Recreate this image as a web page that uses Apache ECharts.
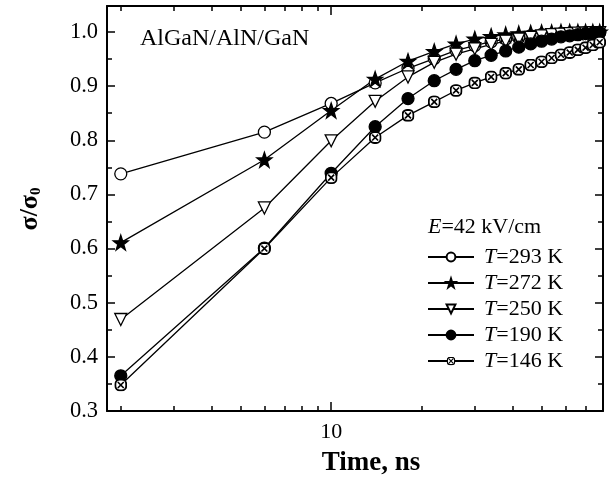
<!DOCTYPE html>
<html>
<head>
<meta charset="utf-8">
<script src="https://cdn.jsdelivr.net/npm/echarts@6/dist/echarts.min.js"></script>
<style>html,body{margin:0;padding:0;background:#fff;}#c{width:609px;height:483px;}</style>
</head>
<body>
<div id="c"></div>
<script>
// ---- data ----
const times = [2, 6, 10, 14, 18, 22, 26, 30, 34, 38, 42, 46, 50, 54, 58, 62, 66, 70, 74, 78];
const seriesNames = ['T=293 K', 'T=272 K', 'T=250 K', 'T=190 K', 'T=146 K'];
const s293 = [0.738, 0.815, 0.868, 0.906, 0.933, 0.951, 0.966, 0.975, 0.982, 0.987, 0.990, 0.993, 0.995, 0.996, 0.997, 0.998, 0.998, 0.999, 0.999, 0.999];
const s272 = [0.611, 0.764, 0.855, 0.913, 0.946, 0.964, 0.978, 0.987, 0.992, 0.995, 0.997, 0.998, 0.999, 0.999, 1.000, 1.000, 1.000, 1.000, 1.000, 1.000];
const s250 = [0.469, 0.675, 0.799, 0.872, 0.917, 0.944, 0.959, 0.969, 0.977, 0.983, 0.987, 0.990, 0.993, 0.995, 0.996, 0.997, 0.998, 0.998, 0.999, 0.999];
const s190 = [0.365, 0.601, 0.739, 0.825, 0.877, 0.910, 0.931, 0.947, 0.957, 0.965, 0.972, 0.978, 0.983, 0.987, 0.991, 0.993, 0.995, 0.997, 0.998, 0.999];
const s146 = [0.348, 0.600, 0.731, 0.805, 0.846, 0.871, 0.892, 0.906, 0.917, 0.924, 0.931, 0.939, 0.945, 0.952, 0.958, 0.962, 0.967, 0.971, 0.976, 0.981];
const xMajorTicks = [10];
const xMinorTicks = [2, 3, 4, 5, 6, 7, 8, 9, 20, 30, 40, 50, 60, 70, 80];
const yMajorTicks = [0.3, 0.4, 0.5, 0.6, 0.7, 0.8, 0.9, 1.0];
const yMinorTicks = [0.35, 0.45, 0.55, 0.65, 0.75, 0.85, 0.95];

const FONT = "'Liberation Serif','Times New Roman',serif";
const pair = (arr) => times.map((t, i) => [t, arr[i]]);

const starPath = 'path://M50,0 L61.8,34.5 L97.6,34.5 L68.8,55.9 L79.4,90.5 L50,69.1 L20.6,90.5 L31.2,55.9 L2.4,34.5 L38.2,34.5 Z';
const boxX = "<svg xmlns='http://www.w3.org/2000/svg' width='24' height='24' viewBox='0 0 24 24'><rect x='2' y='2' width='20' height='20' rx='8' fill='white' stroke='black' stroke-width='3.4'/><path d='M6.5 6.5L17.5 17.5M17.5 6.5L6.5 17.5' stroke='black' stroke-width='3'/></svg>";
const boxXSymbol = 'image://data:image/svg+xml;charset=utf-8,' + encodeURIComponent(boxX);

const xBase = (pos, ticks, len, showLine, showLabel) => ({
  type: 'log', logBase: 10, min: 1.8, max: 80, position: pos,
  axisLine: { show: showLine, lineStyle: { color: '#000', width: 2 } },
  axisTick: { show: true, inside: true, length: len, customValues: ticks, lineStyle: { color: '#000', width: 1.5 } },
  axisLabel: showLabel ? { show: true, customValues: xMajorTicks, formatter: v => String(Math.round(v)), color: '#000', fontFamily: FONT, fontSize: 22, margin: 10 } : { show: false },
  splitLine: { show: false }, minorTick: { show: false }
});
const yBase = (pos, ticks, len, showLine, showLabel) => ({
  type: 'value', min: 0.3, max: 1.048, position: pos,
  axisLine: { show: showLine, lineStyle: { color: '#000', width: 2 } },
  axisTick: { show: true, inside: true, length: len, customValues: ticks, lineStyle: { color: '#000', width: 1.5 } },
  axisLabel: showLabel ? { show: true, customValues: yMajorTicks, formatter: v => v.toFixed(1), color: '#000', fontFamily: FONT, fontSize: 22.5, margin: 9 } : { show: false },
  splitLine: { show: false }
});

const lineStyle = { color: '#000', width: 1.3 };
const mk = (name, data, symbol, size, fill, extra) => Object.assign({
  name, type: 'line', data: pair(data), xAxisIndex: 0, yAxisIndex: 0,
  symbol, symbolSize: size, showAllSymbol: true,
  lineStyle, itemStyle: { color: fill, borderColor: '#000', borderWidth: 1.3 },
  emphasis: { disabled: true }
}, extra || {});

const chart = echarts.init(document.getElementById('c'), null, { renderer: 'canvas' });
chart.setOption({
  animation: false,
  backgroundColor: '#fff',
  grid: { left: 107, right: 6, top: 6, bottom: 72, containLabel: false },
  xAxis: [
    xBase('bottom', xMajorTicks, 9, true, true),
    xBase('bottom', xMinorTicks, 5, false, false),
    xBase('top', xMajorTicks, 9, true, false),
    xBase('top', xMinorTicks, 5, false, false)
  ],
  yAxis: [
    yBase('left', yMajorTicks, 8, true, true),
    yBase('left', yMinorTicks, 5, false, false),
    yBase('right', yMajorTicks, 8, true, false),
    yBase('right', yMinorTicks, 5, false, false)
  ],
  legend: {
    orient: 'vertical', left: 422, top: 241, itemWidth: 46, itemHeight: 11, itemGap: 4,
    data: seriesNames,
    formatter: n => '{i|T}' + n.slice(1),
    textStyle: { color: '#000', fontFamily: FONT, fontSize: 22, padding: [0, 0, 0, 5], rich: { i: { fontStyle: 'italic', fontFamily: FONT, fontSize: 22, color: '#000' } } }
  },
  graphic: [
    { type: 'text', x: 140, y: 39, style: { text: 'AlGaN/AlN/GaN', fontFamily: FONT, fontSize: 24, fill: '#000', verticalAlign: 'middle' } },
    { type: 'text', x: 428, y: 227, style: { text: '{i|E}=42 kV/cm', fontFamily: FONT, fontSize: 22, fill: '#000', verticalAlign: 'middle',
        rich: { i: { fontStyle: 'italic', fontFamily: FONT, fontSize: 22, fill: '#000' } } } },
    { type: 'text', x: 371, y: 463, style: { text: 'Time, ns', fontFamily: FONT, fontSize: 27, fontWeight: 'bold', fill: '#000', align: 'center', verticalAlign: 'middle' } },
    { type: 'text', x: 30, y: 209, rotation: Math.PI / 2, style: { text: '{a|σ/σ}{s|0}', align: 'center', verticalAlign: 'middle',
        rich: { a: { fontFamily: FONT, fontSize: 26, fontWeight: 'bold', fill: '#000' }, s: { fontFamily: FONT, fontSize: 15, fontWeight: 'bold', fill: '#000', padding: [12, 0, 0, 0] } } } }
  ],
  series: [
    mk(seriesNames[0], s293, 'circle', 12, '#fff'),
    mk(seriesNames[1], s272, starPath, 15, '#000'),
    mk(seriesNames[2], s250, 'triangle', 12, '#fff', { symbolRotate: 180 }),
    mk(seriesNames[3], s190, 'circle', 12, '#000'),
    mk(seriesNames[4], s146, boxXSymbol, 13, '#fff')
  ]
});
</script>
</body>
</html>
